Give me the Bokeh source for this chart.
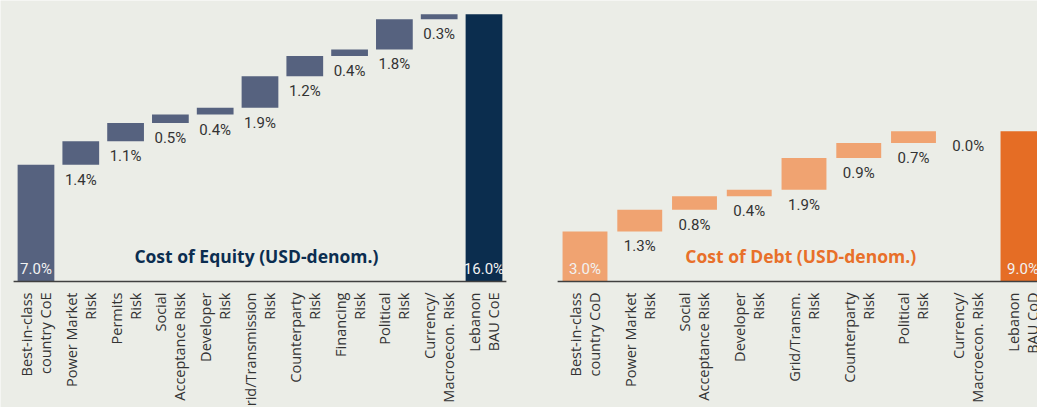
import math
from bokeh.plotting import figure
from bokeh.models import Range1d, ColumnDataSource, Label
from bokeh.core.properties import value
from bokeh.embed import file_html
from bokeh.resources import INLINE

# ---- data ----
coe_labels = ["Best-in-class\ncountry CoE", "Power Market\nRisk", "Permits\nRisk",
              "Social\nAcceptance Risk", "Developer\nRisk", "Grid/Transmission\nRisk",
              "Counterparty\nRisk", "Financing\nRisk", "Political\nRisk",
              "Currency/\nMacroecon. Risk", "Lebanon\nBAU CoE"]
coe_values = [7.0, 1.4, 1.1, 0.5, 0.4, 1.9, 1.2, 0.4, 1.8, 0.3, 16.0]

cod_labels = ["Best-in-class\ncountry CoD", "Power Market\nRisk", "Social\nAcceptance Risk",
              "Developer\nRisk", "Grid/Transm.\nRisk", "Counterparty\nRisk",
              "Political\nRisk", "Currency/\nMacroecon. Risk", "Lebanon\nBAU CoD"]
cod_values = [3.0, 1.3, 0.8, 0.4, 1.9, 0.9, 0.7, 0.0, 9.0]

BG = "#ebede7"
NUM_FONT = "'Liberation Sans Narrow', 'Roboto'"
LBL_FONT = "Open Sans"

p = figure(width=1037, height=407, x_range=Range1d(-0.792, 22.355),
           y_range=Range1d(-7.545, 16.83), output_backend="svg",
           toolbar_location=None, min_border=0)
p.extra_x_ranges = {"debt": Range1d(-10.676, 8.265)}
p.background_fill_color = BG
p.border_fill_color = BG
p.outline_line_color = None
p.grid.visible = False
p.axis.visible = False


def waterfall(labels, values, step_color, total_color, title, title_color,
              title_x, rname):
    n = len(values)
    bottoms, tops, colors = [], [], []
    cum = 0.0
    for i, v in enumerate(values):
        if i == n - 1:
            bottoms.append(0.0)
            tops.append(v)
            colors.append(total_color)
        else:
            bottoms.append(cum)
            tops.append(cum + v)
            colors.append(step_color)
            cum += v
    xs = list(range(n))
    texts = ["%.1f%%" % v for v in values]

    src = ColumnDataSource(dict(x=xs, bottom=bottoms, top=tops, color=colors))
    p.vbar(x="x", bottom="bottom", top="top", width=0.82, color="color",
           line_color=None, source=src, x_range_name=rname)

    # baseline (category axis line)
    p.segment(x0=[-0.5], y0=[0], x1=[n - 0.5], y1=[0], line_color="#404040",
              line_width=1.5, x_range_name=rname)

    mid = ColumnDataSource(dict(x=xs[1:-1], y=bottoms[1:-1], t=texts[1:-1]))
    p.text(x="x", y="y", text="t", source=mid, y_offset=6, text_align="center",
           text_baseline="top", text_font=value(NUM_FONT), text_font_size="15px",
           text_color="#333333", x_range_name=rname)
    ends = ColumnDataSource(dict(x=[xs[0], xs[-1]], y=[0, 0], t=[texts[0], texts[-1]]))
    p.text(x="x", y="y", text="t", source=ends, y_offset=-4, text_align="center",
           text_baseline="bottom", text_font=value(NUM_FONT), text_font_size="15px",
           text_color="#f2f2f2", x_range_name=rname)

    # category labels, vertical, below the baseline
    cat = ColumnDataSource(dict(x=xs, y=[0] * n, t=labels))
    p.text(x="x", y="y", text="t", source=cat, angle=math.pi / 2, y_offset=11,
           text_align="right", text_baseline="middle", text_font=value(LBL_FONT),
           text_font_size="14.5px", text_line_height=1.0, text_color="#333333",
           x_range_name=rname)

    p.add_layout(Label(x=title_x, y=1.5, text=title, text_align="center",
                       text_baseline="middle", text_font=LBL_FONT,
                       text_font_style="bold", text_font_size="17.5px",
                       text_color=title_color, x_range_name=rname))


waterfall(coe_labels, coe_values, "#56627f", "#0b2d4e",
          "Cost of Equity (USD-denom.)", "#0b2d50", 4.92, "default")
waterfall(cod_labels, cod_values, "#f0a371", "#e56d25",
          "Cost of Debt (USD-denom.)", "#e8702a", 3.94, "debt")

open("out.html", "w").write(file_html(p, INLINE))
